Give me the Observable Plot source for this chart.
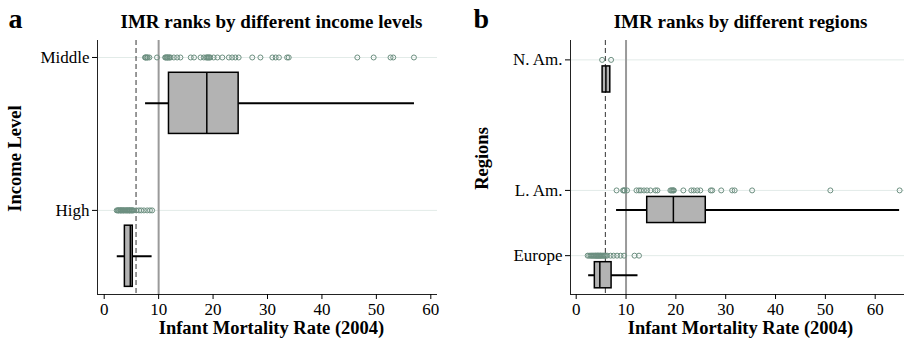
<!DOCTYPE html>
<html><head><meta charset="utf-8">
<script src="https://cdn.jsdelivr.net/npm/d3@7"></script>
<script src="https://cdn.jsdelivr.net/npm/@observablehq/plot@0.6"></script>
<style>
body{margin:0;background:#fff;}
#wrap{position:relative;width:905px;height:345px;overflow:hidden;background:#fff;}
.panel{position:absolute;top:0;}
</style></head><body>
<div id="wrap"></div>
<script>
// ---------- data: panel a (income levels) ----------
const incomeLevels = ["High", "Middle"];
const incomeRowPos = [1, 2];
const highIMR = [2.3,2.5,2.6,2.7,2.9,3.0,3.1,3.2,3.4,3.5,3.6,3.8,3.9,4.1,4.2,4.3,4.5,4.6,4.7,4.8,5.0,5.1,5.2,5.4,5.9,6.4,6.8,7.3,7.9,8.4,8.8];
const middleIMR = [7.5,7.6,7.7,7.9,8.0,8.3,9.7,11.2,11.3,11.5,11.6,11.7,11.9,12.0,12.2,12.8,13.4,14.0,15.9,16.5,17.7,18.3,18.7,18.9,19.0,19.2,19.3,19.5,20.1,20.8,21.7,22.9,23.5,24.1,24.7,27.2,28.7,30.9,31.5,32.1,33.6,33.9,46.5,49.5,52.6,53.1,56.9];
const incomeQ1 = [3.8, 11.9];
const incomeMedian = [4.8, 18.85];
const incomeQ3 = [5.25, 24.7];
const incomeLo = [2.4, 7.6];
const incomeHi = [8.8, 57.0];

// ---------- data: panel b (regions) ----------
const regions = ["Europe", "L. Am.", "N. Am."];
const regionRowPos = [1, 2, 4];
const europeIMR = [2.3,2.6,2.9,3.1,3.3,3.5,3.7,3.9,4.0,4.2,4.3,4.5,4.6,4.8,4.9,5.1,5.3,5.5,5.7,5.9,6.2,6.9,7.5,8.2,8.9,9.6,11.7,12.6];
const latamIMR = [8.1,9.4,9.6,9.7,10.2,12.1,12.6,13.0,13.6,14.2,14.9,15.9,16.3,18.9,19.1,19.3,19.5,19.6,21.5,23.1,23.6,24.3,24.9,27.0,27.3,29.1,31.3,31.8,35.3,51.0,64.9];
const namIMR = [5.2, 7.0];
const regionQ1 = [3.74, 14.25, 5.3];
const regionMedian = [4.74, 19.5, 5.96];
const regionQ3 = [7.1, 26.0, 6.84];
const regionLo = [2.5, 8.1, 5.3];
const regionHi = [12.4, 64.9, 6.84];

// reference lines
const dashedRef = 5.85;
const solidRef = 10;
const xTicksA = [0, 10, 20, 30, 40, 50, 60];
const xTicksB = [0, 10, 20, 30, 40, 50, 60];

const FONT = "'Liberation Serif', 'Times New Roman', serif";
const DOT = "#6c8f80";

function panel(o) {
  const dots = [];
  o.series.forEach((arr, i) => arr.forEach(v => dots.push({pos: o.pos[i], v})));
  const stats = o.labels.map((l, i) => ({pos: o.pos[i], q1: o.q1[i], med: o.med[i], q3: o.q3[i], lo: o.lo[i], hi: o.hi[i]}));
  return Plot.plot({
    width: o.width, height: 345,
    marginLeft: o.marginLeft, marginRight: o.marginRight, marginTop: 40, marginBottom: 51,
    style: {fontFamily: FONT, fontSize: "17px", color: "#000", background: "transparent", overflow: "visible"},
    x: {domain: o.xDomain, axis: null},
    y: {domain: o.yDomain, axis: null},
    marks: [
      Plot.ruleY(o.pos, {stroke: "#e2ebe8", strokeWidth: 1}),
      Plot.ruleX([solidRef], {stroke: "#9a9a9a", strokeWidth: 2}),
      Plot.ruleX([dashedRef], {stroke: "#333", strokeWidth: 1, strokeDasharray: "5,3"}),
      Plot.dot(dots, {x: "v", y: "pos", r: 2.5, stroke: DOT, strokeWidth: 1, fill: "none"}),
      Plot.ruleY(stats, {y: d => d.pos - 0.3, x1: "lo", x2: "hi", stroke: "#000", strokeWidth: 2}),
      Plot.rect(stats, {x1: "q1", x2: "q3", y1: d => d.pos - 0.5, y2: d => d.pos - 0.1, fill: "#b3b3b3", stroke: "#000", strokeWidth: 1.5}),
      Plot.ruleX(stats, {x: "med", y1: d => d.pos - 0.5, y2: d => d.pos - 0.1, stroke: "#000", strokeWidth: 1.5}),
      Plot.ruleY([o.yDomain[0]], {stroke: "#222", strokeWidth: 1}),
      Plot.ruleX([o.xDomain[0]], {stroke: "#222", strokeWidth: 1}),
      Plot.axisX({ticks: o.xTicks, tickSize: 5, tickPadding: 3, fontSize: 17, label: null}),
      Plot.axisY({ticks: o.pos, tickFormat: (d) => o.labels[o.pos.indexOf(d)], tickSize: 5, tickPadding: 3, fontSize: 17, label: null}),
      Plot.text([o.letter], {frameAnchor: "top-left", dx: o.letterDx, dy: -13, textAnchor: "start", lineAnchor: "bottom", fontSize: 28, fontWeight: "bold"}),
      Plot.text([o.title], {frameAnchor: "top", dx: o.titleDx, dy: -13, textAnchor: "middle", lineAnchor: "bottom", fontSize: 19, fontWeight: "bold"}),
      Plot.text(["Infant Mortality Rate (2004)"], {frameAnchor: "bottom", dx: o.titleDx, dy: 39, textAnchor: "middle", lineAnchor: "bottom", fontSize: 18.5, fontWeight: "bold"}),
      Plot.text([o.ylabel], {frameAnchor: "left", dx: o.ylabelDx, dy: -9, rotate: -90, textAnchor: "middle", lineAnchor: "middle", fontSize: 18.5, fontWeight: "bold"})
    ]
  });
}

const wrap = document.getElementById("wrap");
const a = panel({
  labels: incomeLevels, pos: incomeRowPos, series: [highIMR, middleIMR],
  q1: incomeQ1, med: incomeMedian, q3: incomeQ3, lo: incomeLo, hi: incomeHi,
  xDomain: [-1.23, 61.23], yDomain: [0.45, 2.111], xTicks: xTicksA,
  width: 460, marginLeft: 97, marginRight: 23,
  letter: "a", letterDx: -89, title: "IMR ranks by different income levels", titleDx: 4,
  ylabel: "Income Level", ylabelDx: -82
});
a.classList.add("panel"); a.style.left = "0px";
wrap.appendChild(a);
const b = panel({
  labels: regions, pos: regionRowPos, series: [europeIMR, latamIMR, namIMR],
  q1: regionQ1, med: regionMedian, q3: regionQ3, lo: regionLo, hi: regionHi,
  xDomain: [-1.144, 65.88], yDomain: [0.405, 4.297], xTicks: xTicksB,
  width: 445, marginLeft: 110, marginRight: 1,
  letter: "b", letterDx: -97, title: "IMR ranks by different regions", titleDx: 3,
  ylabel: "Regions", ylabelDx: -88
});
b.classList.add("panel"); b.style.left = "460px";
wrap.appendChild(b);
</script>
</body></html>
